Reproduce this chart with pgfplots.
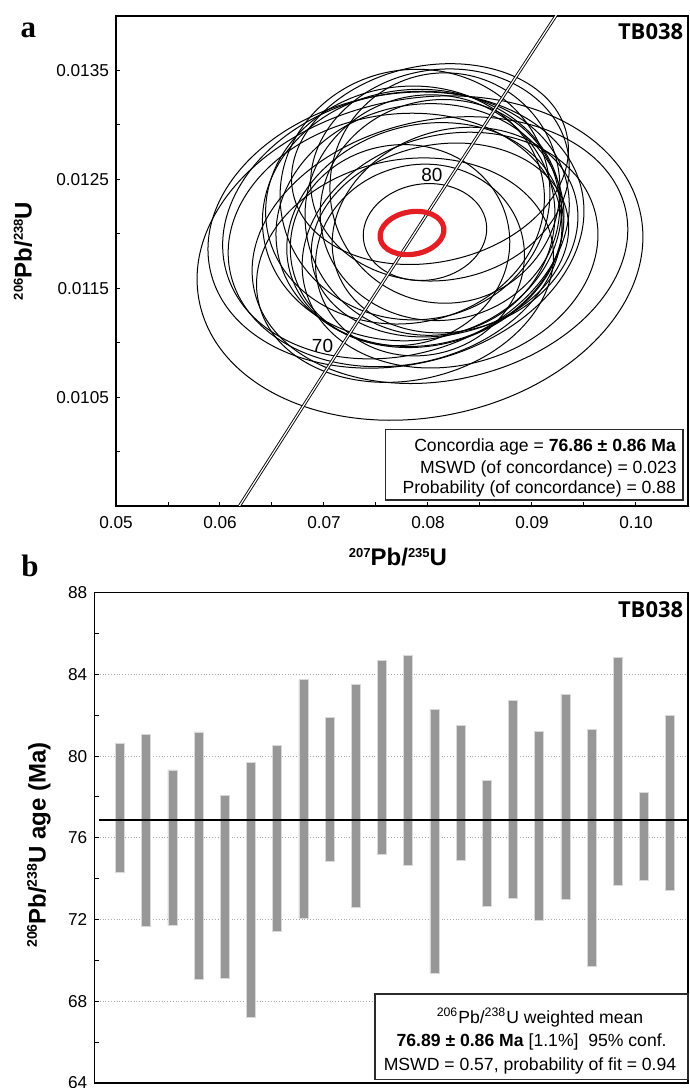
\documentclass[border=0pt]{standalone}
\usepackage{fontspec}
\setmainfont{Liberation Sans}
\newfontfamily\panelfont{Liberation Serif}
\newfontfamily\tagfont{Open Sans}
\usepackage{pgfplots}
\usepackage{pgfplotstable}
\pgfplotsset{compat=1.18}

\definecolor{ellred}{HTML}{E31E24}
\definecolor{bargray}{HTML}{979797}
\definecolor{boxline}{HTML}{2B2B2B}
\definecolor{gridgray}{HTML}{AAAAAA}

% isotope superscript for the bold axis labels
\newcommand{\iso}[2][6.5]{\raisebox{4.4pt}{\fontsize{#1}{#1}\selectfont #2}}

% error ellipses: centre (207/235, 206/238), semi-axes in axis units, tilt in degrees
\pgfplotstableread{
cx       cy        rx       ry        ang
0.07923  0.011777  0.02163  0.001463  11
0.08115  0.011850  0.01827  0.001196  12
0.07692  0.012034  0.01827  0.001242  12
0.07692  0.012080  0.01692  0.001196  15
0.07683  0.011943  0.01615  0.001150  10
0.07846  0.012172  0.01442  0.001150   8
0.07923  0.012080  0.01394  0.001104  12
0.07779  0.012264  0.01346  0.001086  10
0.07971  0.011988  0.01346  0.001012  15
0.07875  0.012360  0.01298  0.001150   5
0.08019  0.012172  0.01202  0.001104   5
0.08115  0.012218  0.01154  0.001012  10
0.07731  0.011896  0.01058  0.000920  10
0.07923  0.011759  0.01010  0.000874  15
0.08163  0.012420  0.01106  0.001058   0
0.07971  0.012016  0.00596  0.000442   8
0.08115  0.011943  0.01250  0.000874  12
0.08260  0.012034  0.01202  0.000920  18
0.08019  0.012640  0.01346  0.000902  12
0.08115  0.012540  0.01250  0.000966  10
0.07779  0.011666  0.01442  0.001012  12
0.08212  0.011850  0.01442  0.001058  15
}\ellipses

% concordia curve, 60 to 90 Ma
\pgfplotstableread{
x         y
0.060872  0.0093509
0.066109  0.0101341
0.071351  0.0109179
0.076660  0.0117023
0.081975  0.0124873
0.087316  0.0132729
0.092683  0.0140592
}\concordia

% 206Pb/238U ages, 2 sigma range (Ma)
\pgfplotstableread{
i   lo     hi
1   74.31  80.62
2   71.66  81.07
3   71.71  79.33
4   69.07  81.19
5   69.13  78.08
6   67.22  79.68
7   71.42  80.54
8   72.08  83.76
9   74.85  81.88
10  72.59  83.53
11  75.19  84.69
12  74.65  84.93
13  69.38  82.30
14  74.88  81.49
15  72.64  78.83
16  73.06  82.73
17  71.94  81.23
18  73.01  83.04
19  69.73  81.31
20  73.69  84.84
21  73.90  78.21
22  73.43  82.00
}\ages

\pgfplotstablegetrowsof{\ellipses}
\pgfmathtruncatemacro\nell{\pgfplotsretval-1}

\pgfplotsset{
  panel/.style={
    scale only axis,
    tick align=inside, tick pos=left,
    major tick length=2.2pt, minor tick length=2.2pt,
    tick style={black, line width=0.5pt},
    axis line style={black, line width=0.6pt},
    tick label style={font=\fontsize{8.6}{10}\selectfont},
    /pgf/number format/assume math mode=true,
    scaled ticks=false,
  },
}

\begin{document}
\begin{tikzpicture}
\path[use as bounding box] (0pt,0pt) rectangle (345pt,544pt);

% ---------------- panel a: concordia ----------------
\begin{axis}[panel,
  at={(58pt,291pt)}, anchor=south west, width=286pt, height=245pt,
  xmin=0.05, xmax=0.105, ymin=0.0095, ymax=0.0140,
  xtick={0.05,0.06,0.07,0.08,0.09,0.10},
  xticklabels={0.05,0.06,0.07,0.08,0.09,0.10},
  minor xtick={0.055,0.065,0.075,0.085,0.095},
  ytick={0.0105,0.0115,0.0125,0.0135},
  yticklabels={0.0105,0.0115,0.0125,0.0135},
  minor ytick={0.010,0.011,0.012,0.013},
  xticklabel style={yshift=-1.5pt},
]
\pgfplotsforeachungrouped \k in {0,...,\nell}{%
  \pgfplotstablegetelem{\k}{cx}\of\ellipses \let\ecx\pgfplotsretval
  \pgfplotstablegetelem{\k}{cy}\of\ellipses \let\ecy\pgfplotsretval
  \pgfplotstablegetelem{\k}{rx}\of\ellipses \let\erx\pgfplotsretval
  \pgfplotstablegetelem{\k}{ry}\of\ellipses \let\ery\pgfplotsretval
  \pgfplotstablegetelem{\k}{ang}\of\ellipses \let\eang\pgfplotsretval
  \edef\doell{\noexpand\draw[black, line width=0.5pt,
      rotate around={\eang:(axis cs:\ecx,\ecy)}]
      (axis cs:\ecx,\ecy) ellipse [x radius=\erx, y radius=\ery];}%
  \doell
}
\addplot[black, line width=0.45pt, double=white, double distance=0.6pt, smooth]
  table[x=x, y=y] {\concordia};
\draw[ellred, line width=2.6pt, rotate around={10:(axis cs:0.07846,0.012007)}]
  (axis cs:0.07846,0.012007) ellipse [x radius=0.00310, y radius=0.000195];
\node[font=\fontsize{9.5}{10}\selectfont] at (axis cs:0.08038,0.01254) {80};
\node[font=\fontsize{9.5}{10}\selectfont] at (axis cs:0.06986,0.010969) {70};
\end{axis}

% ---------------- panel b: weighted mean ----------------
\begin{axis}[panel,
  at={(47.15pt,2.5pt)}, anchor=south west, width=296.85pt, height=245.15pt,
  ybar stacked, bar width=0.34, bar shift=0pt,
  xmin=0.02, xmax=22.68, ymin=64, ymax=88,
  xtick=\empty,
  ytick={64,68,72,76,80,84,88},
  minor ytick={66,70,74,78,82,86},
  ymajorgrids, grid style={gridgray, densely dotted, line width=0.4pt},
]
\addplot[draw=none, fill=none] table[x=i, y=lo] {\ages};
\addplot[fill=bargray, draw=black!15, line width=0.3pt]
  table[x=i, y expr=\thisrow{hi}-\thisrow{lo}] {\ages};
\end{axis}
\begin{axis}[
  at={(47.15pt,2.5pt)}, anchor=south west, width=296.85pt, height=245.15pt,
  scale only axis, hide axis,
  xmin=0.02, xmax=22.68, ymin=64, ymax=88,
]
\addplot[black, line width=1pt] coordinates {(0.2,76.89) (22.68,76.89)};
\end{axis}

% ---------------- labels ----------------
\node[anchor=base, inner sep=0, font=\panelfont\bfseries\fontsize{15.5}{16}\selectfont] at (14.25pt,525pt) {a};
\node[anchor=base, inner sep=0, font=\panelfont\bfseries\fontsize{15.5}{16}\selectfont] at (15pt,255.5pt) {b};
\node[anchor=base east, inner sep=0, font=\tagfont\bfseries\fontsize{11}{12}\selectfont] at (341.8pt,524pt) {TB038};
\node[anchor=base east, inner sep=0, font=\tagfont\bfseries\fontsize{11}{12}\selectfont] at (341.8pt,235.3pt) {TB038};

\node[anchor=base, inner sep=0, font=\bfseries\fontsize{12}{14}\selectfont] at (199pt,261pt)
  {\iso{207}Pb/\iso{235}U};
\node[rotate=90, inner sep=0, font=\bfseries\fontsize{12}{14}\selectfont] at (11.5pt,418.5pt)
  {\iso{206}Pb/\iso{238}U};
\node[rotate=90, inner sep=0, font=\bfseries\fontsize{12}{14}\selectfont] at (19.5pt,121.5pt)
  {\iso[7]{206}Pb/\iso[7]{238}U age (Ma)};

% statistics boxes
\draw[boxline, line width=0.6pt, fill=white] (192.85pt,294pt) rectangle (341.5pt,329.35pt);
\begin{scope}[every node/.style={anchor=base east, inner sep=0, font=\fontsize{8.8}{10}\selectfont}]
\node at (338.2pt,318.2pt) {Concordia age = \textbf{76.86 ± 0.86 Ma}};
\node at (338.6pt,307.3pt) {MSWD (of concordance) = 0.023};
\node at (338.2pt,297.3pt) {Probability (of concordance) = 0.88};
\end{scope}

\draw[boxline, line width=0.6pt, fill=white] (187.5pt,4.4pt) rectangle (344pt,47pt);
\begin{scope}[every node/.style={anchor=base, inner sep=0, font=\fontsize{8.8}{10}\selectfont}]
\node at (270pt,32pt) {\textsuperscript{206}Pb/\textsuperscript{238}U weighted mean};
\node at (265.8pt,20.7pt) {\textbf{76.89 ± 0.86 Ma} [1.1\%]\ \ 95\% conf.};
\node at (265pt,9pt) {MSWD = 0.57, probability of fit = 0.94};
\end{scope}
\end{tikzpicture}
\end{document}
